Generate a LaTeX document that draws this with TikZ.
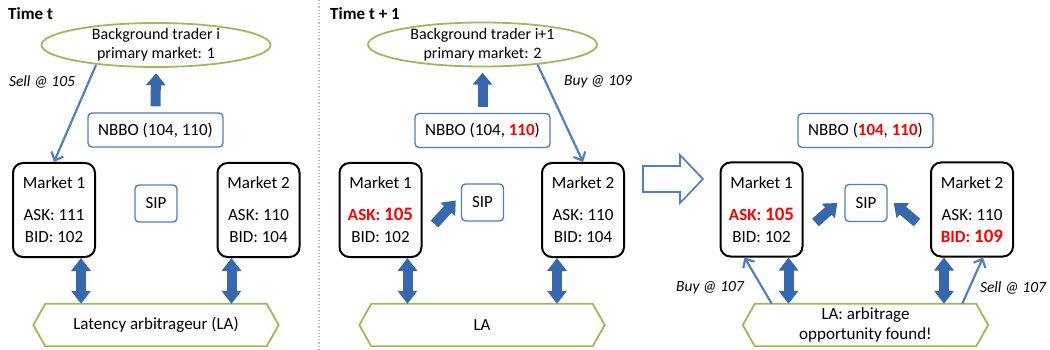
\documentclass[tikz,border=0pt]{standalone}
\usepackage{fontspec}
\setmainfont{Carlito}
\usetikzlibrary{arrows.meta,calc}
\definecolor{lblue}{RGB}{79,129,189}
\definecolor{bblue}{RGB}{55,104,174}
\definecolor{lgreen}{RGB}{155,187,89}
\definecolor{rred}{RGB}{255,0,0}
\newcommand{\hl}[1]{\textcolor{rred}{\textbf{#1}}}
\newcommand{\hlbig}[1]{\textcolor{rred}{\textbf{\fontsize{19}{22}\selectfont #1}}}
\newcommand{\hexa}[1]{\draw[lgreen, line width=1.8pt] (#1.north west) -- (#1.north east) -- ([xshift=12pt]#1.east) -- (#1.south east) -- (#1.south west) -- ([xshift=-12pt]#1.west) -- cycle;}
\tikzset{
  bluebox/.style={draw=lblue, line width=1.4pt, rounded corners=4pt, fill=white, font=\fontsize{17}{20}\selectfont, inner sep=0pt, minimum height=34pt},
  nbbobox/.style={bluebox, minimum width=135pt},
  sipbox/.style={bluebox, minimum width=42pt, minimum height=37pt},
  market/.style={draw=black, line width=2pt, rounded corners=10pt, minimum width=82pt, minimum height=94pt, align=center, font=\fontsize{17}{22}\selectfont, inner sep=0pt},
  bgtxt/.style={minimum width=229pt, minimum height=44pt, inner sep=0pt, align=center, font=\fontsize{16}{19}\selectfont},
  latxt/.style={minimum width=221pt, minimum height=42pt, inner sep=0pt, align=center, font=\fontsize{17}{20}\selectfont},
  thinarrow/.style={draw=lblue, line width=2.2pt, -{Straight Barb[length=7pt,width=13pt]}},
  blockup/.style={draw=bblue, line width=10pt, -{Triangle[length=12pt,width=19pt]}},
  blockdbl/.style={draw=bblue, line width=10pt, {Triangle[length=13pt,width=19pt]}-{Triangle[length=13pt,width=19pt]}},
  lbl/.style={font=\fontsize{15.5}{18}\selectfont\itshape, inner sep=0pt},
  timelbl/.style={font=\fontsize{17}{20}\selectfont\bfseries, anchor=west, inner sep=0pt},
  ell/.style={draw=lgreen, line width=1.8pt}
}
\begin{document}
\begin{tikzpicture}[x=1pt,y=-1pt]
\useasboundingbox (0,0) rectangle (1050,350);
% divider
\draw[gray!55, dotted, line width=1.2pt] (319,0) -- (319,350);

% ---------------- Panel 1 ----------------
\node[timelbl] (time1) at (8,14) {Time t};
\draw[ell] (156,45) ellipse [x radius=114.5pt, y radius=22pt];
\node[bgtxt] (bg1) at (156,45) {Background trader i\\primary market: 1};
\node[nbbobox] (nbbo1) at (155.5,130) {NBBO (104, 110)};
\node[sipbox] (sip1) at (156,203.5) {SIP};
\node[market] (m1a) at (54,210) {Market 1\\[10pt]ASK: 111\\BID: 102};
\node[market] (m2a) at (258.5,210) {Market 2\\[10pt]ASK: 110\\BID: 104};
\node[latxt] (la1) at (156,325) {Latency arbitrageur (LA)};
\hexa{la1}
\node[lbl] (sell1) at (42,82) {Sell @ 105};
\draw[thinarrow] ($(bg1.center)+(-60,20)$) -- (m1a.north);
\draw[blockup] ([yshift=6pt]nbbo1.north) -- ([yshift=-6pt]bg1.south);
\draw[blockdbl] ([xshift=-15pt]m1a.south east) -- ([xshift=-15pt]m1a.south east |- la1.north);
\draw[blockdbl] ([xshift=15pt]m2a.south west) -- ([xshift=15pt]m2a.south west |- la1.north);

% ---------------- Panel 2 ----------------
\node[timelbl] (time2) at (330,14) {Time t + 1};
\draw[ell] (482.5,44.5) ellipse [x radius=114.5pt, y radius=22pt];
\node[bgtxt] (bg2) at (482.5,44.5) {Background trader i+1\\primary market: 2};
\node[nbbobox] (nbbo2) at (482.5,130.5) {NBBO (104, \hl{110})};
\node[sipbox] (sip2) at (482.5,202.5) {SIP};
\node[market] (m1b) at (380.5,210) {Market 1\\[10pt]\hl{ASK: }\hlbig{105}\\BID: 102};
\node[market] (m2b) at (583,210) {Market 2\\[10pt]ASK: 110\\BID: 104};
\node[latxt] (la2) at (482,325) {LA};
\hexa{la2}
\node[lbl] (buy2) at (598,82) {Buy @ 109};
\draw[thinarrow] ($(bg2.center)+(55,20)$) -- (m2b.north);
\draw[blockup] ([yshift=6pt]nbbo2.north) -- ([yshift=-6pt]bg2.south);
\draw[blockup] ($(m1b.east)+(12,14)$) -- ($(sip2.west)+(-5,-2)$);
\draw[blockdbl] ([xshift=-15pt]m1b.south east) -- ([xshift=-15pt]m1b.south east |- la2.north);
\draw[blockdbl] ([xshift=16pt]m2b.south west) -- ([xshift=16pt]m2b.south west |- la2.north);

% big hollow arrow
\draw[lblue, line width=1.7pt, fill=white, line join=miter] (643,166) -- (680,166) -- (680,155) -- (703,179) -- (680,203) -- (680,192) -- (643,192) -- cycle;

% ---------------- Panel 3 ----------------
\node[nbbobox] (nbbo3) at (865.5,130.5) {NBBO (\hl{104}, \hl{110})};
\node[sipbox] (sip3) at (866,203) {SIP};
\node[market] (m1c) at (761.5,209.5) {Market 1\\[10pt]\hl{ASK: }\hlbig{105}\\BID: 102};
\node[market] (m2c) at (972,209.5) {Market 2\\[10pt]ASK: 110\\\hl{BID: }\hlbig{109}};
\node[latxt] (la3) at (865.5,325) {LA: arbitrage\\opportunity found!};
\hexa{la3}
\draw[blockup] ($(m1c.east)+(12,13)$) -- ($(sip3.west)+(-7,0)$);
\draw[blockup] ($(m2c.west)+(-13,13)$) -- ($(sip3.east)+(6,0)$);
\draw[blockdbl] ([xshift=-15pt]m1c.south east) -- ([xshift=-15pt]m1c.south east |- la3.north);
\draw[blockdbl] ([xshift=14pt]m2c.south west) -- ([xshift=14pt]m2c.south west |- la3.north);
\draw[thinarrow] ($(la3.north west)+(17,0)$) -- ($(m1c.south west)+(25,0)$);
\draw[thinarrow] ($(la3.north east)+(-14,0)$) -- ($(m2c.south east)+(-31,0)$);
\node[lbl] (buy3) at (710,288) {Buy @ 107};
\node[lbl] (sell3) at (1013,288) {Sell @ 107};
\end{tikzpicture}
\end{document}
